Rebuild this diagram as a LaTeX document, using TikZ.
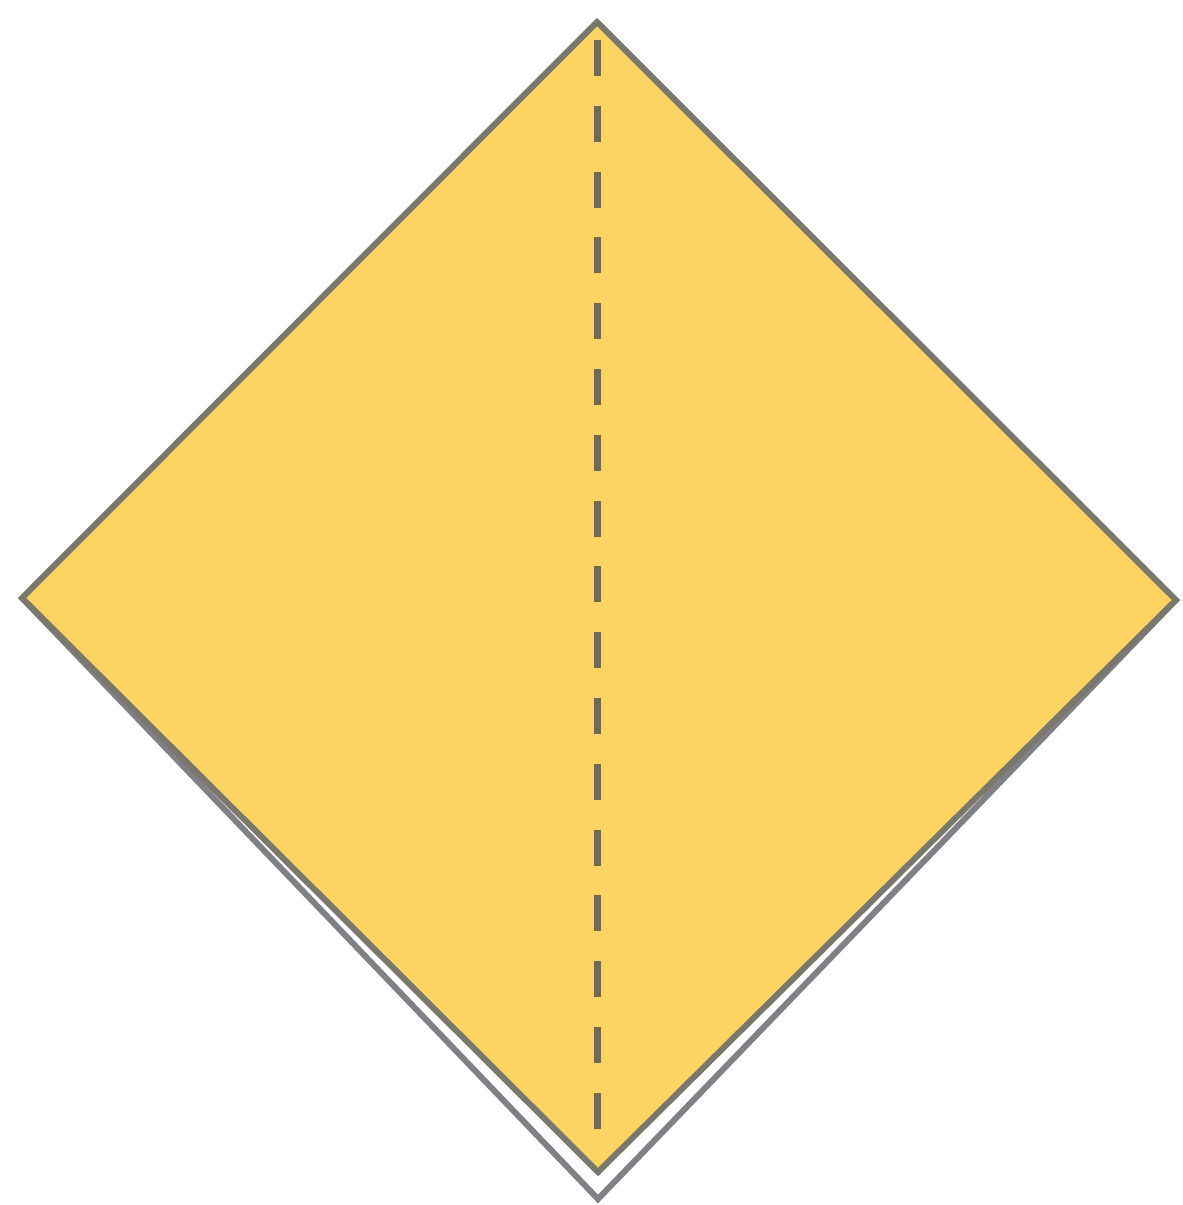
\documentclass[tikz,border=0pt]{standalone}
\definecolor{paper}{RGB}{253,212,98}
\definecolor{edge}{RGB}{122,120,108}
\definecolor{backedge}{RGB}{128,128,134}
\definecolor{crease}{RGB}{112,106,82}
\begin{document}
\begin{tikzpicture}[x=1pt,y=-1pt,
  frontsheet/.style={fill=paper,draw=edge,line width=6pt,line join=miter},
  backsheet/.style={fill=white,draw=backedge,line width=6pt,line join=miter},
  creaseline/.style={draw=crease,line width=7pt,dash pattern=on 36pt off 29.8pt}]
\useasboundingbox (0,0) rectangle (1183,1205);
\coordinate (T) at (597,22);
\coordinate (L) at (22,598);
\coordinate (R) at (1176,600);
\coordinate (B) at (598,1172);
\coordinate (BB) at (598,1199);
\coordinate (cs) at (597,40);
\coordinate (ce) at (597,1135);
\path[backsheet] (L) -- (BB) -- (R);
\path[frontsheet] (T) -- (R) -- (B) -- (L) -- cycle;
\draw[creaseline] (cs) -- (ce);
\end{tikzpicture}
\end{document}
